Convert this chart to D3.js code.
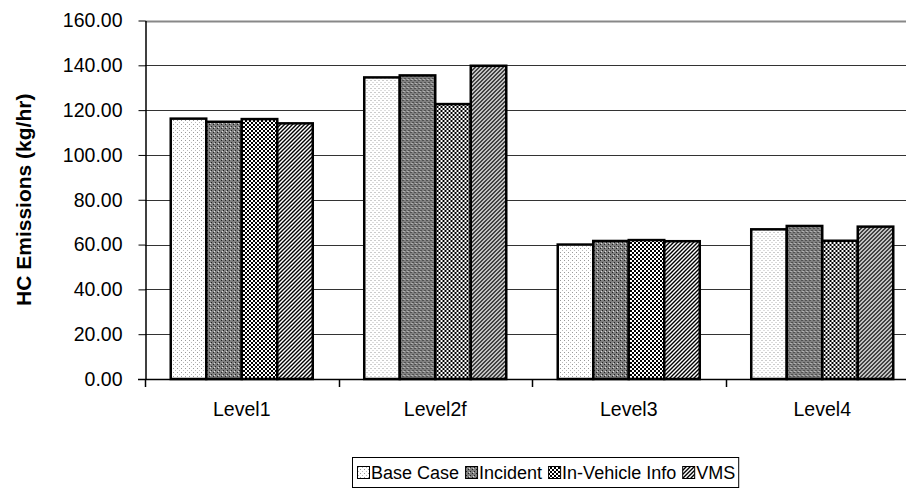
<!DOCTYPE html>
<html>
<head>
<meta charset="utf-8">
<script src="https://cdn.jsdelivr.net/npm/d3@7"></script>
<style>
  body { margin: 0; background: #fff; }
  text { font-family: "Liberation Sans", Arial, sans-serif; }
</style>
</head>
<body>
<div id="chart"></div>
<script>
// data
var categories = ["Level1", "Level2f", "Level3", "Level4"];
var seriesNames = ["Base Case", "Incident", "In-Vehicle Info", "VMS"];
var baseCase = [116.2, 134.6, 60.0, 66.8];
var incident = [114.8, 135.5, 61.6, 68.3];
var inVehicle = [116.0, 122.7, 62.0, 61.7];
var vms = [114.1, 139.8, 61.5, 68.0];
var yTicks = [0, 20, 40, 60, 80, 100, 120, 140, 160];

var width = 906,
    height = 493;

var svg = d3.select("#chart")
    .append("svg")
    .attr("width", width)
    .attr("height", height);

/* fill patterns, one per series */
var defs = svg.append("defs");

var p0 = defs.append("pattern").attr("id", "pat0")
    .attr("patternUnits", "userSpaceOnUse").attr("width", 4).attr("height", 4);
p0.append("rect").attr("width", 4).attr("height", 4).attr("fill", "#fff");
p0.append("rect").attr("x", 0).attr("y", 0).attr("width", 1).attr("height", 1).attr("fill", "#999");
p0.append("rect").attr("x", 2).attr("y", 2).attr("width", 1).attr("height", 1).attr("fill", "#bbb");

var p1 = defs.append("pattern").attr("id", "pat1")
    .attr("patternUnits", "userSpaceOnUse").attr("width", 4).attr("height", 4);
p1.append("rect").attr("width", 4).attr("height", 4).attr("fill", "#808080");
p1.append("rect").attr("x", 0).attr("y", 0).attr("width", 1).attr("height", 1).attr("fill", "#222");
p1.append("rect").attr("x", 2).attr("y", 2).attr("width", 1).attr("height", 1).attr("fill", "#222");
p1.append("rect").attr("x", 1).attr("y", 3).attr("width", 1).attr("height", 1).attr("fill", "#ddd");

var p2 = defs.append("pattern").attr("id", "pat2")
    .attr("patternUnits", "userSpaceOnUse").attr("width", 4).attr("height", 4);
p2.append("rect").attr("width", 4).attr("height", 4).attr("fill", "#fff");
p2.append("rect").attr("x", 0).attr("y", 0).attr("width", 2).attr("height", 2).attr("fill", "#000");
p2.append("rect").attr("x", 2).attr("y", 2).attr("width", 2).attr("height", 2).attr("fill", "#000");

var p3 = defs.append("pattern").attr("id", "pat3")
    .attr("patternUnits", "userSpaceOnUse").attr("width", 4).attr("height", 4);
p3.append("rect").attr("width", 4).attr("height", 4).attr("fill", "#fff");
p3.append("path").attr("d", "M-1,1 l2,-2 M0,4 l4,-4 M3,5 l2,-2")
    .attr("stroke", "#000").attr("stroke-width", 1.4);

var fills = ["url(#pat0)", "url(#pat1)", "url(#pat2)", "url(#pat3)"];

/* scales */
var y = d3.scaleLinear().domain([0, 160]).range([379, 20.5]);

var x0 = d3.scaleBand().domain(categories).range([145, 919]).padding(0);

var x1 = d3.scaleBand().domain(seriesNames)
    .range([0, x0.bandwidth()])
    .paddingInner(0).paddingOuter(0.725);

/* gridlines */
svg.append("g")
    .selectAll("line")
    .data(yTicks.slice(1))
    .enter().append("line")
        .attr("x1", 145).attr("x2", width)
        .attr("y1", function(d) { return Math.round(y(d)) + 0.5; })
        .attr("y2", function(d) { return Math.round(y(d)) + 0.5; })
        .attr("stroke", function(d) { return d == 160 ? "#888" : "#333"; })
        .attr("stroke-width", function(d) { return d == 160 ? 2 : 1; });

/* bars */
var table = categories.map(function(c, i) {
    return [baseCase[i], incident[i], inVehicle[i], vms[i]].map(function(v, j) {
        return { cat: c, name: seriesNames[j], value: v, idx: j };
    });
});

svg.append("g")
    .selectAll("g")
    .data(table)
    .enter().append("g")
        .attr("transform", function(d) { return "translate(" + x0(d[0].cat) + ",0)"; })
    .selectAll("rect")
    .data(function(d) { return d; })
    .enter().append("rect")
        .attr("x", function(d) { return x1(d.name); })
        .attr("y", function(d) { return y(d.value); })
        .attr("width", x1.bandwidth())
        .attr("height", function(d) { return y(0) - y(d.value); })
        .attr("fill", function(d) { return fills[d.idx]; })
        .attr("stroke", "#000")
        .attr("stroke-width", 2.5);

/* y axis */
var yAxis = d3.axisLeft(y)
    .tickValues(yTicks)
    .tickFormat(d3.format(".2f"))
    .tickSize(7)
    .tickSizeOuter(0)
    .tickPadding(16);

var gy = svg.append("g")
    .attr("transform", "translate(145.5,0)")
    .call(yAxis);
gy.select(".domain").attr("stroke", "#000").attr("stroke-width", 1.5);
gy.selectAll("text").attr("font-size", "19.5px").attr("fill", "#000")
    .style("font-family", "Liberation Sans, Arial, sans-serif");

/* x axis: labels centred in each band, ticks on band edges */
var xAxis = d3.axisBottom(x0).tickSize(0).tickSizeOuter(0).tickPadding(23);
var gx = svg.append("g")
    .attr("transform", "translate(0,379.5)")
    .call(xAxis);
gx.select(".domain").remove();
gx.selectAll("text").attr("font-size", "19.5px").attr("fill", "#000")
    .style("font-family", "Liberation Sans, Arial, sans-serif");

svg.append("line")
    .attr("x1", 138).attr("x2", width)
    .attr("y1", 379.5).attr("y2", 379.5)
    .attr("stroke", "#000").attr("stroke-width", 1.5);

svg.append("g")
    .selectAll("line")
    .data(categories)
    .enter().append("line")
        .attr("x1", function(d) { return Math.round(x0(d)) + 0.5; })
        .attr("x2", function(d) { return Math.round(x0(d)) + 0.5; })
        .attr("y1", 379).attr("y2", 387)
        .attr("stroke", "#000").attr("stroke-width", 1.5);

/* y title */
svg.append("text")
    .attr("transform", "translate(31," + (y(80)) + ") rotate(-90)")
    .attr("text-anchor", "middle")
    .attr("font-size", "21px")
    .attr("font-weight", "bold")
    .text("HC Emissions (kg/hr)");

/* legend */
var legend = svg.append("g").attr("transform", "translate(352,457)");
var box = legend.append("rect")
    .attr("x", 0.5).attr("y", 0.5)
    .attr("height", 30)
    .attr("fill", "#fff").attr("stroke", "#000");

var lx = 5;
seriesNames.forEach(function(name, i) {
    legend.append("rect")
        .attr("x", lx + 0.5).attr("y", 9.5)
        .attr("width", 12).attr("height", 12)
        .attr("fill", fills[i]).attr("stroke", "#000").attr("stroke-width", 1);
    var t = legend.append("text")
        .attr("x", lx + 14).attr("y", 22)
        .attr("font-size", "18px")
        .text(name);
    lx += 14 + t.node().getComputedTextLength() + 6;
});
box.attr("width", lx - 3);
</script>
</body>
</html>
